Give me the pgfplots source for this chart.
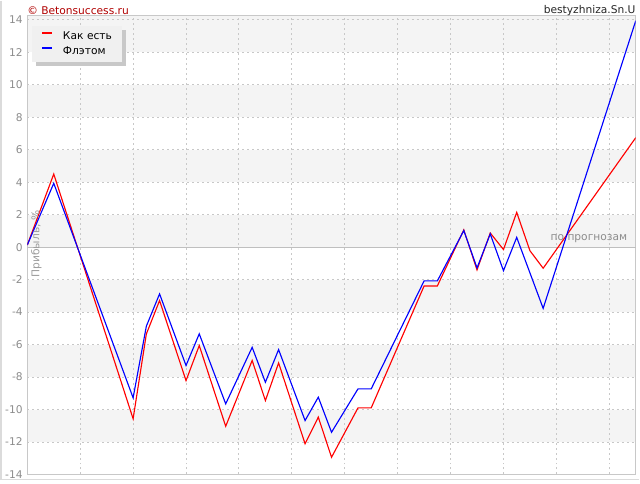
\documentclass[border=0pt]{standalone}
\usepackage{fontspec}
\setmainfont{DejaVu Sans}
\usepackage{pgfplots}
\pgfplotsset{compat=1.18}
\usetikzlibrary{shadows}

\definecolor{gridgray}{HTML}{C8C8C8}
\definecolor{bandgray}{HTML}{F4F4F4}
\definecolor{labelgray}{HTML}{8C8C8C}
\definecolor{titlered}{HTML}{B00000}
\definecolor{legendbg}{HTML}{F0F0F0}
\definecolor{shadowgray}{HTML}{C8C8C8}
\newcommand{\chartfont}{\fontsize{8pt}{9.5pt}\selectfont}

\begin{document}
\begin{tikzpicture}
\path (0,0) rectangle (480pt,-360pt);
\draw[black!14, line width=1.2pt] (0.6pt,0pt) -- (0.6pt,-359.4pt) -- (480pt,-359.4pt);

\begin{axis}[
    set layers,
    scale only axis,
    width=456.9pt, height=344.5pt,
    at={(20.5pt,-355.7pt)}, anchor=south west,
    xmin=0, xmax=46, ymin=-14, ymax=14.25,
    xtick={4,8,...,44}, xticklabels={},
    ytick={-14,-12,...,14},
    major tick length=0pt,
    grid=major,
    major grid style={gridgray, line width=0.75pt, dash pattern=on 1.5pt off 2.25pt},
    axis line style={gridgray, line width=0.75pt},
    /pgf/number format/assume math mode=true,
    yticklabel style={font=\chartfont, text=labelgray, inner sep=0pt, xshift=-3.3pt},
    legend style={
        at={(axis description cs:0,1)}, anchor=north west,
        xshift=3.6pt, yshift=-7.2pt,
        fill=legendbg, draw=none,
        drop shadow={shadow xshift=3pt, shadow yshift=-3pt, fill=shadowgray, opacity=1},
        font=\chartfont,
        inner xsep=6.5pt, inner ysep=4.3pt,
        row sep=4.1pt,
        nodes={inner sep=0pt, text height=5.8pt, text depth=1.5pt, text width=38pt},
        /tikz/every odd column/.append style={column sep=7.5pt},
    },
    legend cell align=left,
    legend image code/.code={
        \begin{scope}[#1]
        \pgfsetlinewidth{1.5pt}
        \pgfpathmoveto{\pgfpoint{0pt}{2.3pt}}
        \pgfpathlineto{\pgfpoint{7.5pt}{2.3pt}}
        \pgfusepath{stroke}
        \end{scope}
    },
]
\begin{pgfonlayer}{axis background}
    \fill[bandgray] (axis cs:0,12) rectangle (axis cs:46,14.25);
    \fill[bandgray] (axis cs:0,8) rectangle (axis cs:46,10);
    \fill[bandgray] (axis cs:0,4) rectangle (axis cs:46,6);
    \fill[bandgray] (axis cs:0,0) rectangle (axis cs:46,2);
    \fill[bandgray] (axis cs:0,-4) rectangle (axis cs:46,-2);
    \fill[bandgray] (axis cs:0,-8) rectangle (axis cs:46,-6);
    \fill[bandgray] (axis cs:0,-12) rectangle (axis cs:46,-10);
\end{pgfonlayer}
\begin{pgfonlayer}{pre main}
    \draw[black!25, line width=0.9pt] (axis cs:0,0) -- (axis cs:46,0);
    \node[anchor=east, font=\chartfont, text=labelgray] at (axis cs:45.7,0.55) {по прогнозам};
\end{pgfonlayer}

% Как есть
\addplot[red, line width=0.85pt] coordinates {
    (0,0.13) (2,4.5) (8,-10.57) (9,-5.35) (10,-3.29) (12,-8.22) (13,-6.06)
    (15,-11.03) (17,-6.98) (18,-9.45) (19,-7.13) (21,-12.11) (22,-10.47)
    (23,-12.94) (25,-9.9) (26,-9.9) (30,-2.39) (31,-2.39) (33,1.06)
    (34,-1.4) (35,0.87) (36,-0.15) (37,2.14) (38,-0.22) (39,-1.3) (46,6.74)
};
\addlegendentry{Как есть}

% Флэтом
\addplot[blue, line width=0.85pt] coordinates {
    (0,0.13) (2,3.93) (8,-9.28) (9,-4.87) (10,-2.88) (12,-7.29) (13,-5.34)
    (15,-9.65) (17,-6.17) (18,-8.32) (19,-6.31) (21,-10.68) (22,-9.24)
    (23,-11.4) (25,-8.73) (26,-8.73) (30,-2.08) (31,-2.08) (33,1.02)
    (34,-1.28) (35,0.81) (36,-1.45) (37,0.6) (39,-3.77) (46,13.94)
};
\addlegendentry{Флэтом}
\end{axis}

\node[anchor=west, font=\chartfont, text=titlered, inner sep=0pt] at (20.3pt,-7.5pt) {© Betonsuccess.ru};
\node[anchor=east, font=\chartfont, text=black!85, inner sep=0pt] at (477.4pt,-7.5pt) {bestyzhniza.Sn.U};
\node[rotate=90, font=\chartfont, text=labelgray!85, inner sep=0pt] at (27.2pt,-182.6pt) {Прибыль, \%};
\end{tikzpicture}
\end{document}
